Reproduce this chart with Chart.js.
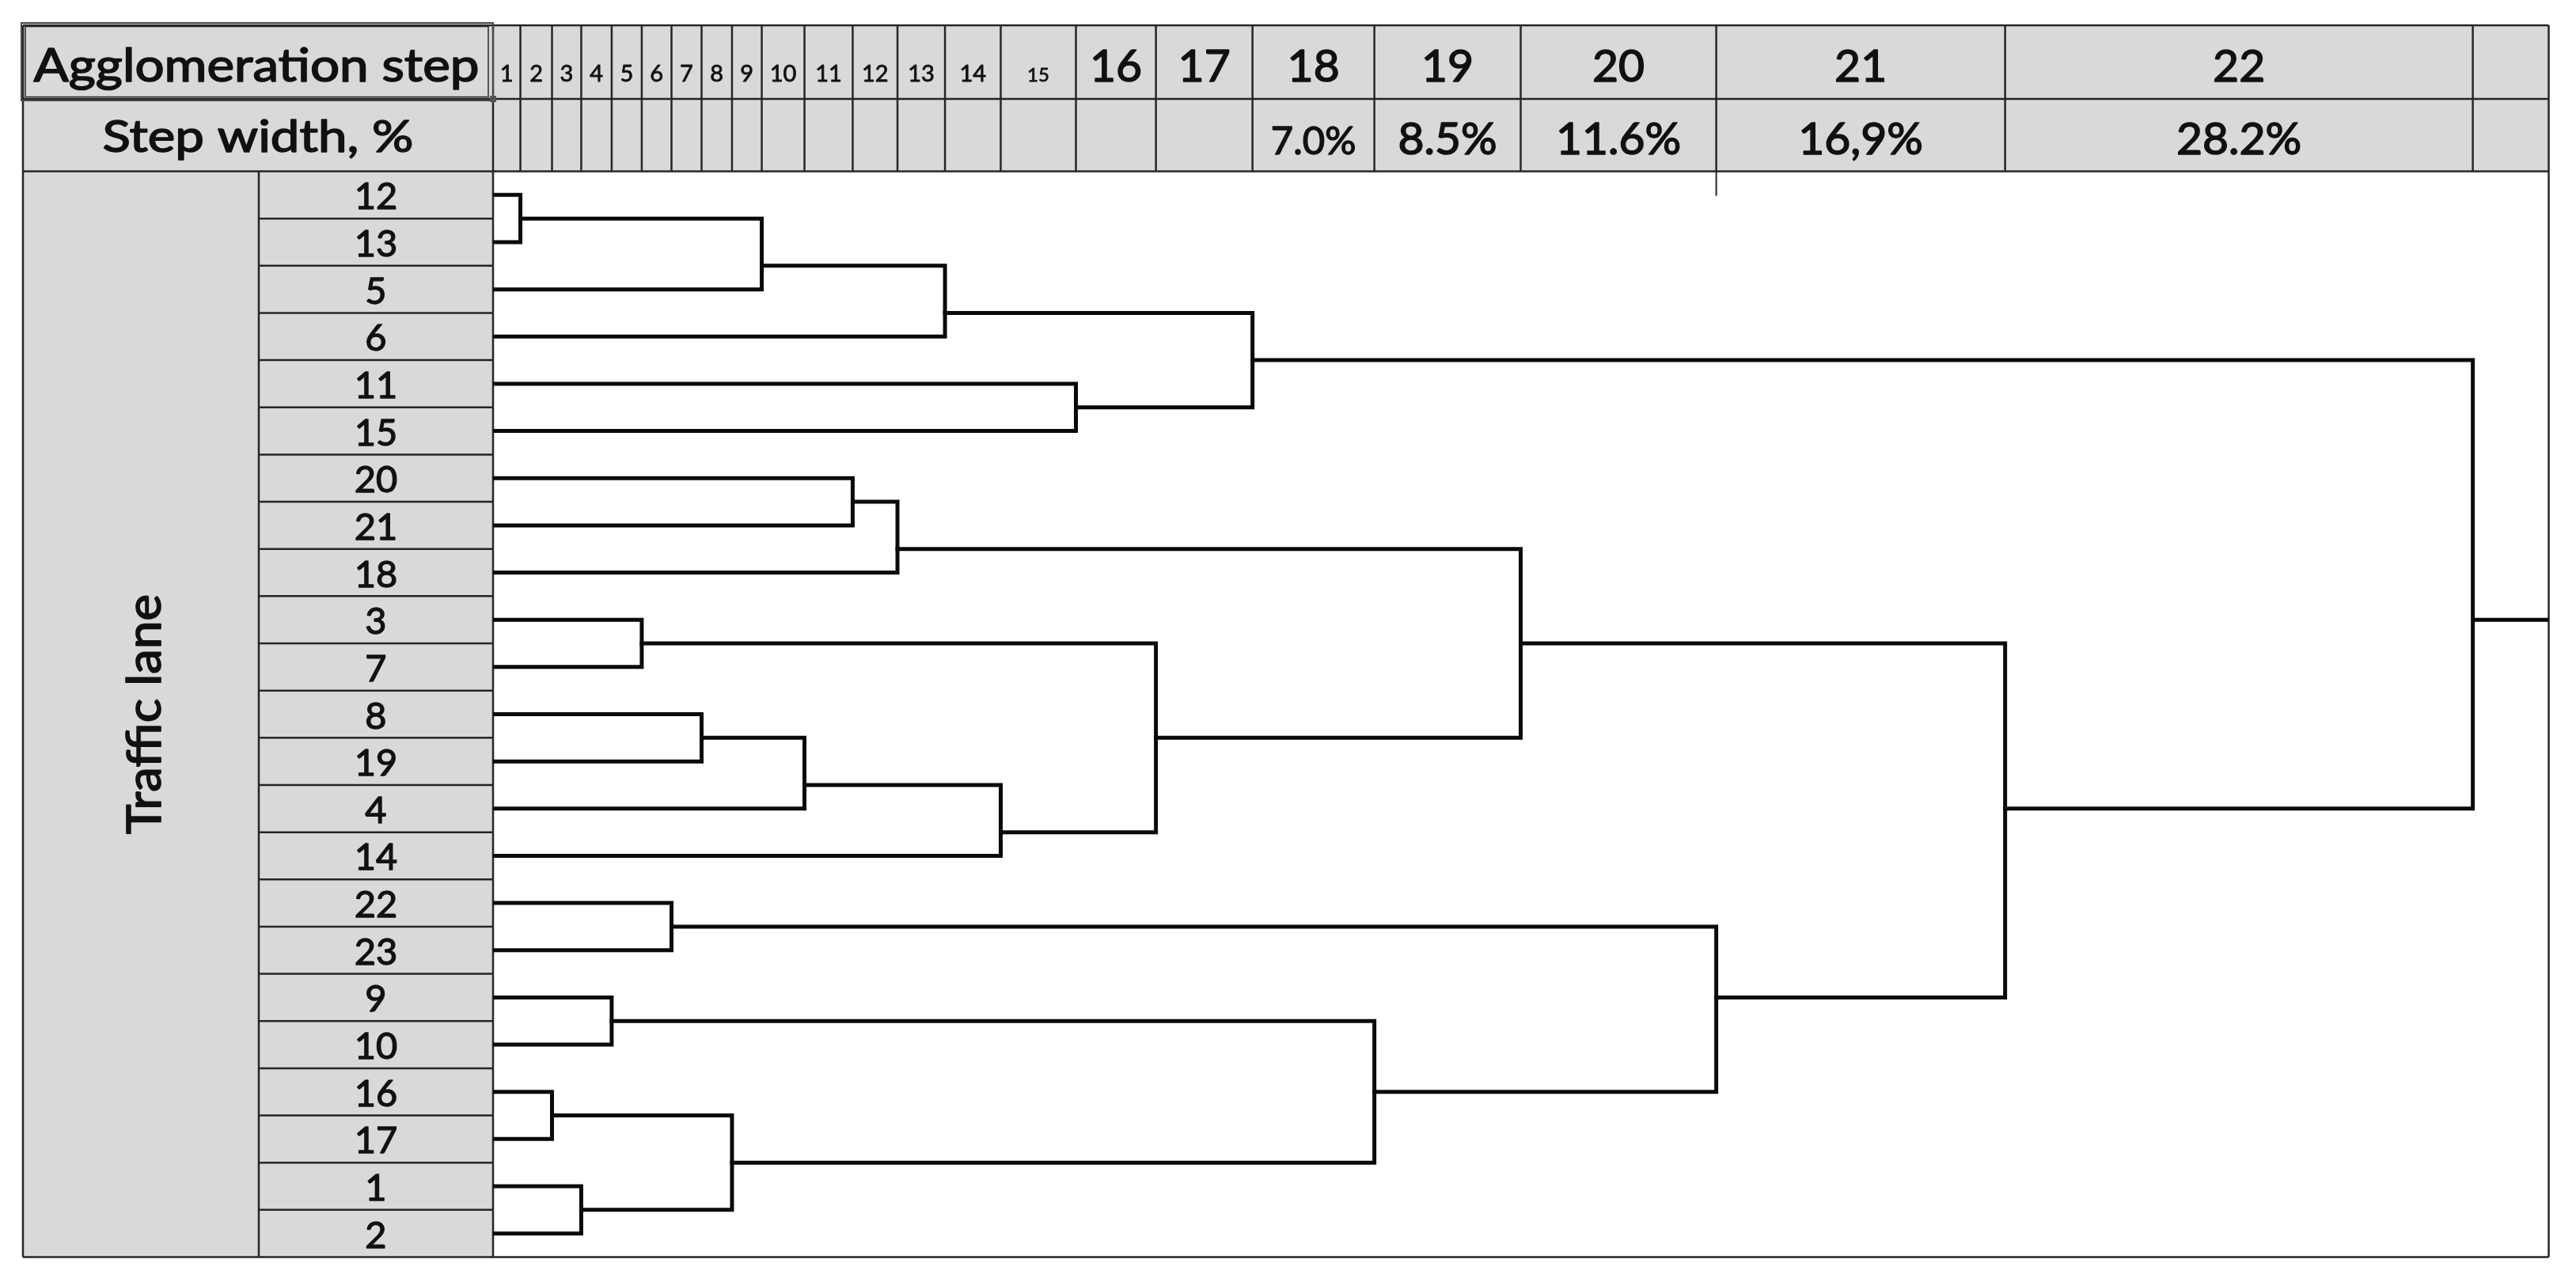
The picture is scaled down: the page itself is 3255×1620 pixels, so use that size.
<!DOCTYPE html>
<html>
<head>
<meta charset="utf-8">
<title>Agglomeration dendrogram</title>
<script src="https://cdn.jsdelivr.net/npm/chart.js@4/dist/chart.umd.min.js"></script>
<style>
	html, body { margin: 0; padding: 0; background: #fff; }
	canvas { display: block; }
</style>
</head>
<body>
<canvas id="dendrogram" width="3255" height="1620"></canvas>
<script>
// traffic lanes, top to bottom
const leafLabels = [12, 13, 5, 6, 11, 15, 20, 21, 18, 3, 7, 8, 19, 4, 14, 22, 23, 9, 10, 16, 17, 1, 2];

const steps = [1, 2, 3, 4, 5, 6, 7, 8, 9, 10, 11, 12, 13, 14, 15, 16, 17, 18, 19, 20, 21, 22];

// width of each agglomeration step (%)
const stepWidths = [1.6, 1.85, 1.71, 1.78, 1.76, 1.74, 1.76, 1.78, 1.74, 2.5, 2.82, 2.62, 2.78, 3.26, 4.4, 4.68, 5.65, 7.13, 8.56, 11.44, 16.9, 27.36];
const stepWidthLabels = ["", "", "", "", "", "", "", "", "", "", "", "", "", "", "", "", "", "7.0%", "8.5%", "11.6%", "16,9%", "28.2%"];

// clusters joined at each step: a lane number, or "S<n>" for the cluster made at step n
const joinUpper = ["12", "16", "1", "9", "3", "22", "8", "S2", "S1", "S7", "20", "S11", "S9", "S10", "11", "S5", "S13", "S4", "S12", "S6", "S19", "S17"];
const joinLower = ["13", "17", "2", "10", "7", "23", "19", "S3", "5", "4", "21", "18", "6", "14", "15", "S14", "S15", "S8", "S16", "S18", "S20", "S21"];
// row where the new cluster leaves each step (rows counted from the top)
const joinLevel = [1, 20, 22, 18, 10, 16, 12, 21, 2, 13, 7, 8, 3, 14, 5, 12, 4, 19.5, 10, 17.5, 13.5, 9.5];

const FONT = "Lato, 'Open Sans', sans-serif";
const GRAY = "#d9d9d9";
const GRID = "#262626";

const stepEdges = [];
stepWidths.reduce((sum, w, i) => (stepEdges[i] = sum + w), 0);
const totalWidth = stepEdges[stepEdges.length - 1];
const tailWidth = 4.44;

function nodeOf(id) {
	if (id[0] === "S") {
		const k = Number(id.slice(1)) - 1;
		return { x: stepEdges[k], y: joinLevel[k] };
	}
	return { x: 0, y: leafLabels.indexOf(Number(id)) + 0.5 };
}

const lineStyle = {
	showLine: true,
	borderColor: "#0a0a0a",
	borderWidth: 5,
	pointRadius: 0,
	borderJoinStyle: "miter",
	borderCapStyle: "square",
	tension: 0,
	fill: false,
};

const datasets = steps.map((step, i) => {
	const a = nodeOf(joinUpper[i]);
	const b = nodeOf(joinLower[i]);
	const x = stepEdges[i];
	return {
		label: "Step " + step,
		data: [
			{ x: a.x, y: a.y },
			{ x, y: a.y },
			{ x, y: b.y },
			{ x: b.x, y: b.y },
		],
		...lineStyle,
	};
});

datasets.push({
	label: "Root",
	data: [
		{ x: totalWidth, y: joinLevel[joinLevel.length - 1] },
		{ x: totalWidth + tailWidth, y: joinLevel[joinLevel.length - 1] },
	],
	...lineStyle,
	borderCapStyle: "butt",
});

function drawText(ctx, text, x, y, size, fitWidth) {
	ctx.save();
	ctx.font = size + "px " + FONT;
	ctx.textAlign = "center";
	ctx.textBaseline = "alphabetic";
	ctx.fillStyle = "#111";
	ctx.strokeStyle = "#111";
	ctx.lineWidth = Math.max(0.8, size * 0.028);
	ctx.lineJoin = "round";
	ctx.translate(x, y);
	if (fitWidth) {
		ctx.scale(fitWidth / ctx.measureText(text).width, 1);
	}
	ctx.fillText(text, 0, 0);
	ctx.strokeText(text, 0, 0);
	ctx.restore();
}

function line(ctx, x1, y1, x2, y2) {
	ctx.beginPath();
	ctx.moveTo(x1, y1);
	ctx.lineTo(x2, y2);
	ctx.stroke();
}

const tablePlugin = {
	id: "table",
	beforeDatasetsDraw(chart) {
		const { ctx, chartArea, scales } = chart;
		const { left, right, top, bottom } = chartArea;
		const xs = scales.x;
		const ys = scales.y;
		const outer = 29;
		const labelCol = 327;
		const headTop = 32;
		const headMid = 125;

		ctx.save();
		ctx.fillStyle = "#fff";
		ctx.fillRect(0, 0, chart.width, chart.height);
		ctx.fillStyle = GRAY;
		ctx.fillRect(outer, headTop, right - outer, top - headTop);
		ctx.fillRect(outer, top, left - outer, bottom - top);

		ctx.strokeStyle = GRID;
		ctx.lineWidth = 2.5;
		// header rows
		line(ctx, outer, headTop, right, headTop);
		line(ctx, outer, headMid, right, headMid);
		line(ctx, outer, top, right, top);
		// header columns
		const edges = [0, ...stepEdges];
		edges.forEach((v) => {
			const px = xs.getPixelForValue(v);
			line(ctx, px, headTop, px, top);
		});
		line(ctx, right, headTop, right, bottom);
		// left table
		line(ctx, outer, headTop, outer, bottom);
		line(ctx, labelCol, top, labelCol, bottom);
		line(ctx, left, top, left, bottom);
		leafLabels.forEach((lab, i) => {
			if (i > 0) {
				const py = ys.getPixelForValue(i);
				line(ctx, labelCol, py, left, py);
			}
		});
		line(ctx, outer, bottom, right, bottom);
		// little stub under the header
		const stub = xs.getPixelForValue(stepEdges[19]);
		ctx.lineWidth = 2;
		line(ctx, stub, top, stub, top + 31);

		// selected cell frame
		ctx.strokeStyle = "#4a4a4a";
		ctx.lineWidth = 2;
		ctx.strokeRect(27, 29, left - 27, headMid + 2 - 29);
		ctx.strokeStyle = "#2a2a2a";
		ctx.lineWidth = 1.5;
		ctx.strokeRect(32, 33.5, left - 38, headMid - 36);
		ctx.fillStyle = "#555";
		ctx.fillRect(left - 4, headMid - 4, 8, 8);
		ctx.restore();

		// texts
		const headCenter = (outer + left) / 2;
		drawText(ctx, "Agglomeration step", headCenter - 2, 103, 58, 563);
		drawText(ctx, "Step width, %", headCenter, 192, 56, 393);

		steps.forEach((step, i) => {
			const x0 = xs.getPixelForValue(i === 0 ? 0 : stepEdges[i - 1]);
			const x1 = xs.getPixelForValue(stepEdges[i]);
			const cx = (x0 + x1) / 2;
			const size = step <= 14 ? 29 : step === 15 ? 24 : 57;
			drawText(ctx, String(step), cx, 103, size);
			if (stepWidthLabels[i]) {
				drawText(ctx, stepWidthLabels[i], cx, 195, step === 18 ? 49 : 57);
			}
		});

		leafLabels.forEach((lab, i) => {
			const py = ys.getPixelForValue(i + 0.5);
			drawText(ctx, String(lab), (labelCol + left) / 2, py + 18, 47);
		});

		ctx.save();
		ctx.translate(203, (top + bottom) / 2);
		ctx.rotate(-Math.PI / 2);
		drawText(ctx, "Traffic lane", 0, 0, 60, 303);
		ctx.restore();
	},
};

const config = {
	type: "scatter",
	data: { datasets },
	options: {
		responsive: false,
		devicePixelRatio: 1,
		animation: false,
		events: [],
		layout: {
			padding: { left: 623, right: 34.5, top: 216.5, bottom: 31.5 },
		},
		plugins: {
			legend: { display: false },
			tooltip: { enabled: false },
		},
		scales: {
			x: {
				type: "linear",
				display: false,
				min: 0,
				max: totalWidth + tailWidth,
			},
			y: {
				type: "linear",
				display: false,
				reverse: true,
				min: 0,
				max: leafLabels.length,
			},
		},
	},
	plugins: [tablePlugin],
};

new Chart(document.querySelector("#dendrogram"), config);
</script>
</body>
</html>
